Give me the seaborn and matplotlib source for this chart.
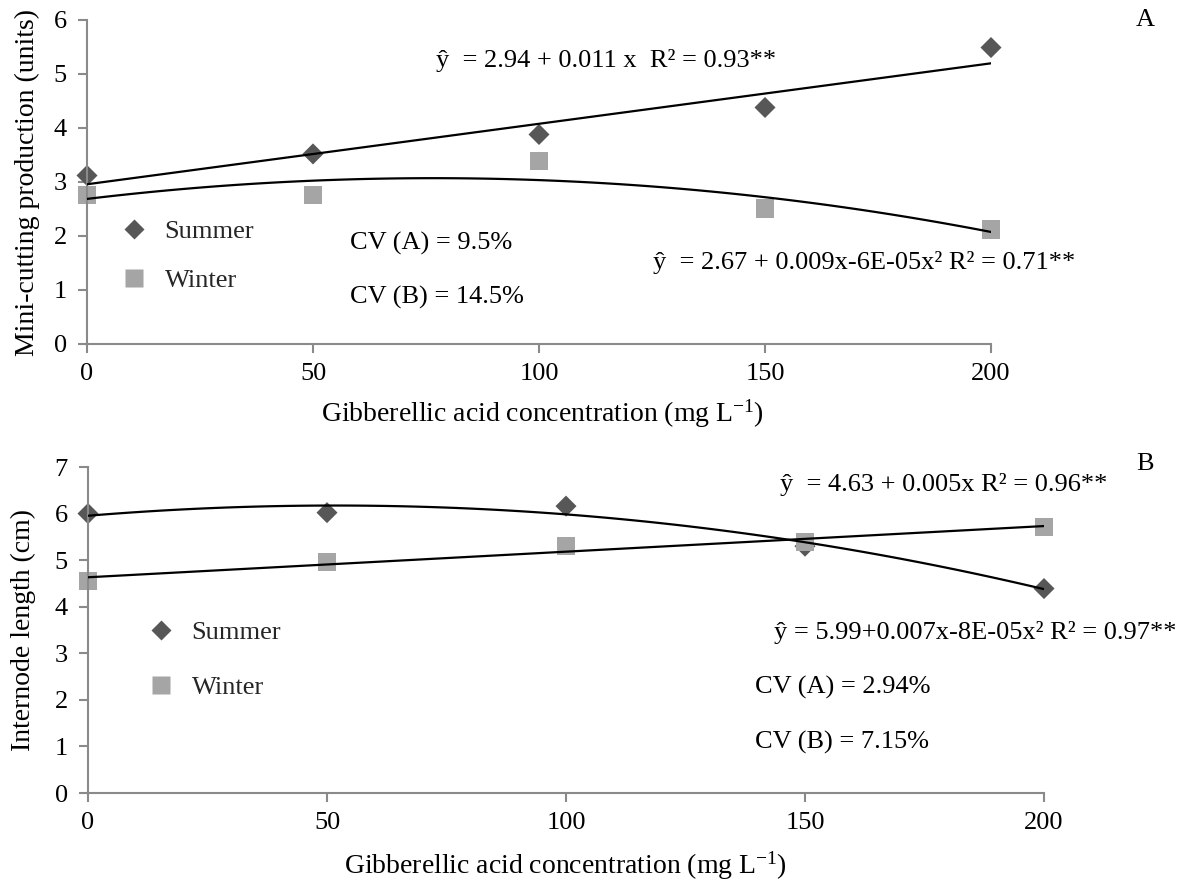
import numpy as np
import pandas as pd
import matplotlib
matplotlib.use("Agg")
import matplotlib.pyplot as plt
from matplotlib.lines import Line2D
import seaborn as sns

# ---- data ----
concentration = [0, 50, 100, 150, 200]
summer_cuttings = [3.12, 3.52, 3.88, 4.38, 5.49]
winter_cuttings = [2.76, 2.76, 3.39, 2.51, 2.12]
summer_internode = [6.00, 6.02, 6.16, 5.30, 4.39]
winter_internode = [4.55, 4.96, 5.30, 5.39, 5.71]
x_ticks = [0, 50, 100, 150, 200]

sns.set_style("ticks")
plt.rcParams["font.family"] = ["Liberation Serif", "DejaVu Serif"]
plt.rcParams["mathtext.fontset"] = "custom"
plt.rcParams["mathtext.rm"] = "Liberation Serif"
plt.rcParams["mathtext.it"] = "Liberation Serif:italic"

W, H = 1183, 881
fig = plt.figure(figsize=(W / 100, H / 100), dpi=100)

def px_axes(l, r, t, b):
    return fig.add_axes([l / W, 1 - b / H, (r - l) / W, (b - t) / H])

TXT_FS = 19
def ftext(px, py, s, size=TXT_FS, ha="left", va="center", **kw):
    fig.text(px / W, 1 - py / H, s, fontsize=size, ha=ha, va=va, color="black", **kw)

SUMMER_C = "#575757"
WINTER_C = "#a5a5a5"
AX_C = "#8a8a8a"
TICK_FS = 19
LABEL_FS = 20

def style_axes(ax, ylim, yticks):
    ax.set_xlim(0, 200)
    ax.set_ylim(*ylim)
    ax.set_xticks(x_ticks)
    ax.set_yticks(yticks)
    for side in ("top", "right"):
        ax.spines[side].set_visible(False)
    for side in ("left", "bottom"):
        ax.spines[side].set_color(AX_C)
        ax.spines[side].set_linewidth(1.5)
    ax.tick_params(axis="both", colors=AX_C, width=1.5, length=6.5,
                   labelcolor="black", labelsize=TICK_FS)
    ax.tick_params(axis="x", pad=7)
    ax.tick_params(axis="y", pad=8)

def draw_panel(ax, summer, winter, summer_order, winter_order):
    sns.scatterplot(x=concentration, y=summer, marker="D", s=115, color=SUMMER_C,
                    edgecolor="none", ax=ax, clip_on=False, zorder=2, legend=False)
    sns.scatterplot(x=concentration, y=winter, marker="s", s=175, color=WINTER_C,
                    edgecolor="none", ax=ax, clip_on=False, zorder=2, legend=False)
    sns.regplot(x=concentration, y=summer, order=summer_order, ci=None, scatter=False,
                ax=ax, line_kws=dict(color="black", lw=1.6, zorder=3))
    sns.regplot(x=concentration, y=winter, order=winter_order, ci=None, scatter=False,
                ax=ax, line_kws=dict(color="black", lw=1.6, zorder=3))
    ax.set_xlabel("")
    ax.set_ylabel("")

def legend(ax, anchor, spacing):
    handles = [Line2D([], [], marker="D", ls="none", color=SUMMER_C, markersize=10.2, mec="none"),
               Line2D([], [], marker="s", ls="none", color=WINTER_C, markersize=12.8, mec="none")]
    ax.legend(handles, ["Summer", "Winter"], loc="center left", bbox_to_anchor=anchor,
              frameon=False, borderpad=0, handlelength=1.0, handletextpad=0.65,
              labelspacing=spacing, fontsize=TXT_FS)

# ---- panel A ----
axA = px_axes(87, 991, 20, 344)
draw_panel(axA, summer_cuttings, winter_cuttings, 1, 2)
style_axes(axA, (0, 6), range(0, 7))
legend(axA, ((108 - 87) / 904, (344 - 256) / 324), 0.95)

ftext(436, 60, "ŷ  = 2.94 + 0.011 x  R² = 0.93**")
ftext(653, 262, "ŷ  = 2.67 + 0.009x-6E-05x² R² = 0.71**")
ftext(350, 243, "CV (A) = 9.5%")
ftext(350, 297, "CV (B) = 14.5%")
ftext(1145, 20, "A", ha="center")
ftext(542, 414, r"Gibberellic acid concentration (mg L$^{-1}$)", size=LABEL_FS, ha="center")
ftext(27, 183, "Mini-cutting production (units)", size=LABEL_FS, ha="center", rotation=90)

# ---- panel B ----
axB = px_axes(88, 1044, 467, 793)
draw_panel(axB, summer_internode, winter_internode, 2, 1)
style_axes(axB, (0, 7), range(0, 8))
legend(axB, ((135 - 88) / 956, (793 - 660) / 326), 1.2)

ftext(780, 484, "ŷ  = 4.63 + 0.005x R² = 0.96**")
ftext(774, 632, "ŷ = 5.99+0.007x-8E-05x² R² = 0.97**")
ftext(755, 687, "CV (A) = 2.94%")
ftext(755, 742, "CV (B) = 7.15%")
ftext(1145, 464, "B", ha="center")
ftext(565, 866, r"Gibberellic acid concentration (mg L$^{-1}$)", size=LABEL_FS, ha="center")
ftext(23, 630, "Internode length (cm)", size=LABEL_FS, ha="center", rotation=90)

fig.savefig("out.png", dpi=100, facecolor="white")
